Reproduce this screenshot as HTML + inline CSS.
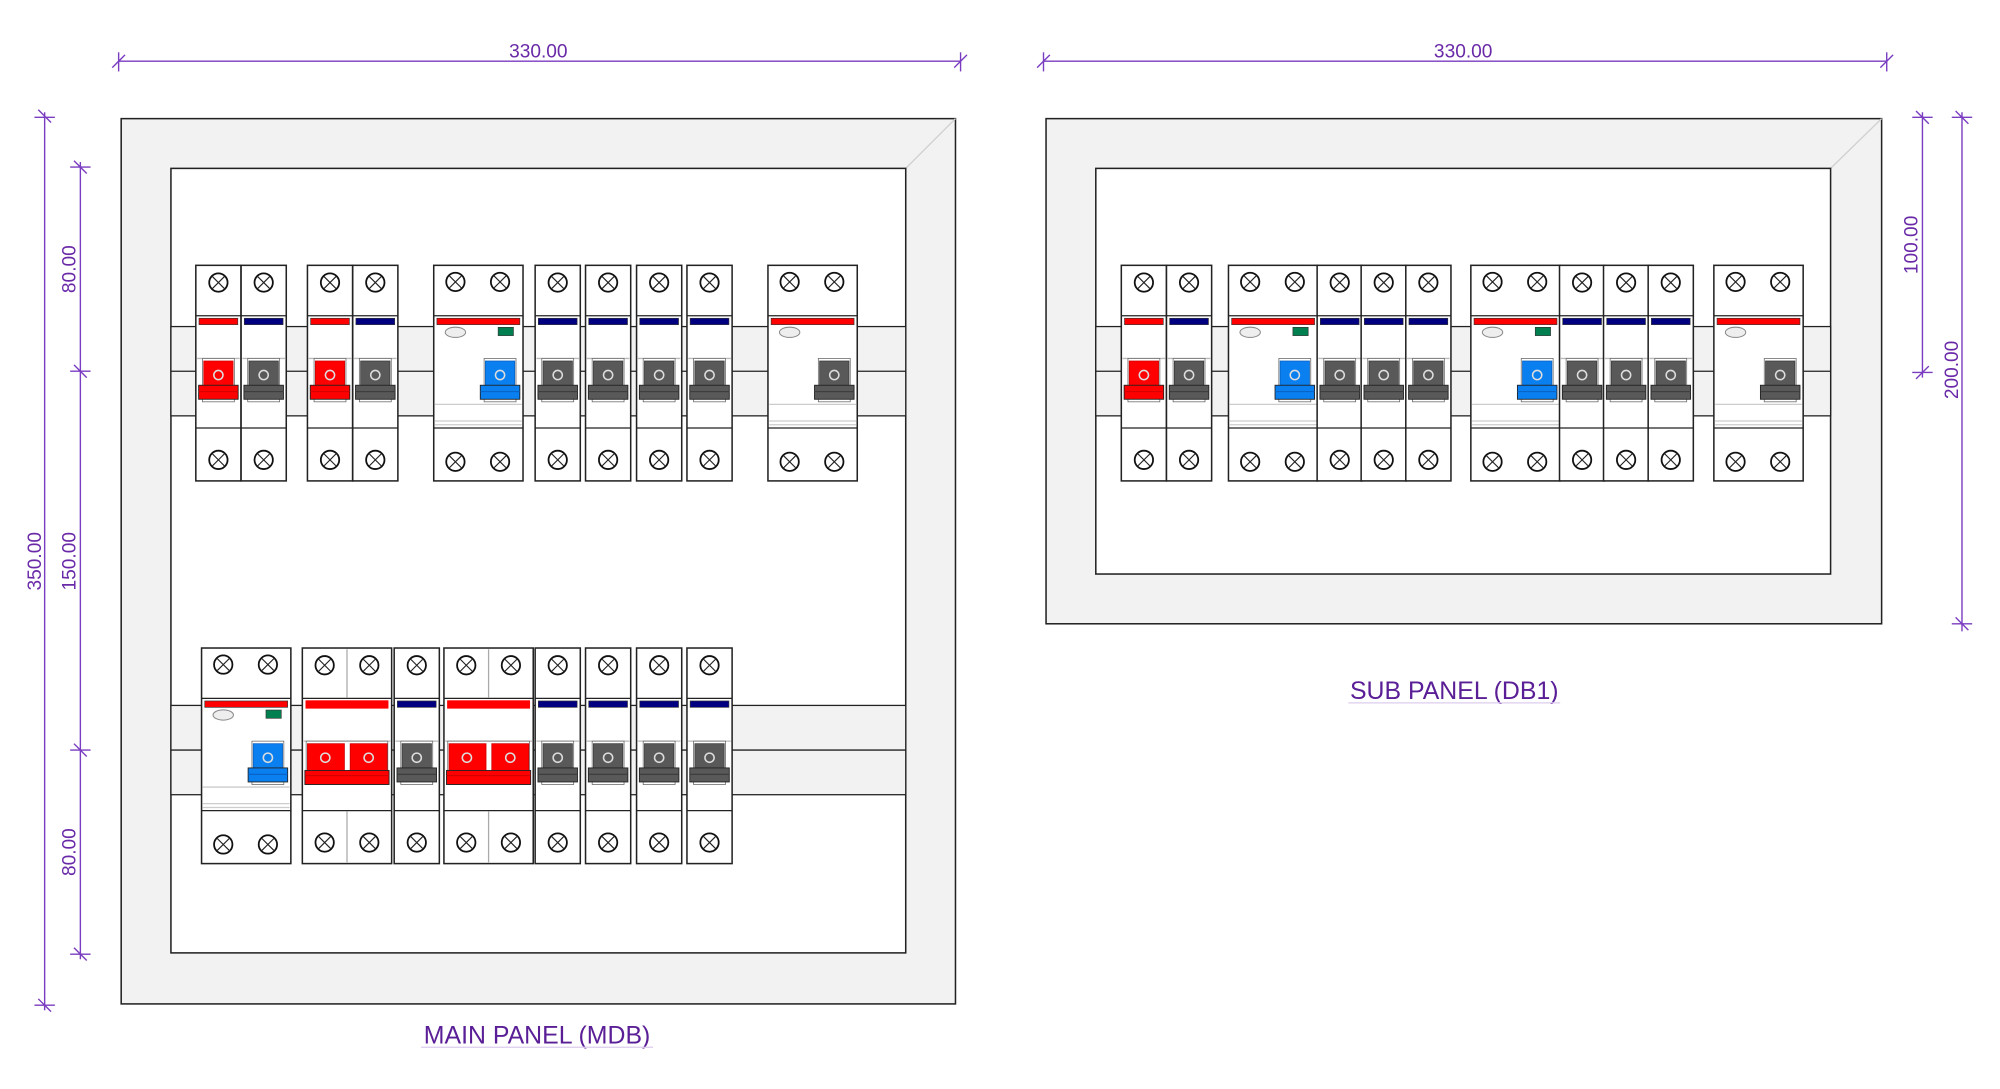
<!DOCTYPE html>
<html><head><meta charset="utf-8"><style>
html,body{margin:0;padding:0;background:#fff;width:2000px;height:1089px;overflow:hidden}
svg{display:block}
.dim{fill:#6a2aa8;font-family:"Liberation Sans",sans-serif;font-size:15px}
.lbl{fill:#5a1e96;font-family:"Liberation Sans",sans-serif;font-size:19.5px}
</style></head><body>
<svg id="s" width="2000" height="1089" viewBox="0 0 1567.8 853.7" preserveAspectRatio="none" xmlns="http://www.w3.org/2000/svg">
<rect width="1570" height="860" fill="#fff"/>
<!-- main panel -->
<rect x="95" y="93" width="654" height="694" fill="#f2f2f2" stroke="#222" stroke-width="1.2"/>
<line x1="710" y1="132" x2="749" y2="93" stroke="#d0d0d0" stroke-width="1"/>
<rect x="134" y="132" width="576" height="615" fill="#fff" stroke="#222" stroke-width="1.2"/>
<rect x="134" y="256" width="576" height="70" fill="#f2f2f2" stroke="#222" stroke-width="1"/>
<line x1="134" y1="291" x2="710" y2="291" stroke="#222" stroke-width="1"/>
<rect x="134" y="553" width="576" height="70" fill="#f2f2f2" stroke="#222" stroke-width="1"/>
<line x1="134" y1="588" x2="710" y2="588" stroke="#222" stroke-width="1"/>
<!-- sub panel -->
<rect x="820" y="93" width="655" height="396" fill="#f2f2f2" stroke="#222" stroke-width="1.2"/>
<line x1="1435" y1="132" x2="1475" y2="93" stroke="#d0d0d0" stroke-width="1"/>
<rect x="859" y="132" width="576" height="318" fill="#fff" stroke="#222" stroke-width="1.2"/>
<rect x="859" y="256" width="576" height="70" fill="#f2f2f2" stroke="#222" stroke-width="1"/>
<line x1="859" y1="291" x2="1435" y2="291" stroke="#222" stroke-width="1"/>
<g id="mods"></g>
<!-- dimensions -->
<g stroke="#7a3cc0" stroke-width="1.1" fill="none">
<line x1="93" y1="48" x2="753" y2="48"/>
<line x1="93" y1="41" x2="93" y2="56"/><line x1="88" y1="53" x2="98" y2="43"/>
<line x1="753" y1="41" x2="753" y2="56"/><line x1="748" y1="53" x2="758" y2="43"/>
<line x1="818" y1="48" x2="1479" y2="48"/>
<line x1="818" y1="41" x2="818" y2="56"/><line x1="813" y1="53" x2="823" y2="43"/>
<line x1="1479" y1="41" x2="1479" y2="56"/><line x1="1474" y1="53" x2="1484" y2="43"/>
<line x1="35" y1="88" x2="35" y2="792"/>
<line x1="27" y1="92" x2="43" y2="92"/><line x1="30" y1="86" x2="40" y2="96"/>
<line x1="27" y1="788" x2="43" y2="788"/><line x1="30" y1="783" x2="40" y2="793"/>
<line x1="63" y1="127" x2="63" y2="752"/>
<line x1="55" y1="131" x2="71" y2="131"/><line x1="58" y1="126" x2="68" y2="136"/>
<line x1="55" y1="291" x2="71" y2="291"/><line x1="58" y1="286" x2="68" y2="296"/>
<line x1="55" y1="588" x2="71" y2="588"/><line x1="58" y1="583" x2="68" y2="593"/>
<line x1="55" y1="748" x2="71" y2="748"/><line x1="58" y1="743" x2="68" y2="753"/>
<line x1="1507" y1="88" x2="1507" y2="296"/>
<line x1="1499" y1="92" x2="1515" y2="92"/><line x1="1502" y1="87" x2="1512" y2="97"/>
<line x1="1499" y1="292" x2="1515" y2="292"/><line x1="1502" y1="297" x2="1512" y2="287"/>
<line x1="1538" y1="88" x2="1538" y2="495"/>
<line x1="1530" y1="92" x2="1546" y2="92"/><line x1="1533" y1="87" x2="1543" y2="97"/>
<line x1="1530" y1="489" x2="1546" y2="489"/><line x1="1533" y1="484" x2="1543" y2="494"/>
</g>
<text class="dim" x="422" y="45" text-anchor="middle">330.00</text>
<text class="dim" x="1147" y="45" text-anchor="middle">330.00</text>
<text class="dim" transform="translate(32,440) rotate(-90)" text-anchor="middle">350.00</text>
<text class="dim" transform="translate(59,211) rotate(-90)" text-anchor="middle">80.00</text>
<text class="dim" transform="translate(59,440) rotate(-90)" text-anchor="middle">150.00</text>
<text class="dim" transform="translate(59,668) rotate(-90)" text-anchor="middle">80.00</text>
<text class="dim" transform="translate(1503,192) rotate(-90)" text-anchor="middle">100.00</text>
<text class="dim" transform="translate(1535,290) rotate(-90)" text-anchor="middle">200.00</text>
<text class="lbl" x="421" y="818" text-anchor="middle">MAIN PANEL (MDB)</text>
<line x1="330" y1="821" x2="512" y2="821" stroke="#dccdee" stroke-width="1"/>
<text class="lbl" x="1140" y="548" text-anchor="middle">SUB PANEL (DB1)</text>
<line x1="1057" y1="551" x2="1223" y2="551" stroke="#dccdee" stroke-width="1"/>
</svg>
<script>
var G=document.getElementById("mods"),h="";
function R(x,y,w,hh,f,s,sw){return '<rect x="'+x+'" y="'+y+'" width="'+w+'" height="'+hh+'" fill="'+f+'" stroke="'+(s||"none")+'" stroke-width="'+(sw||1)+'"/>';}
function L(x1,y1,x2,y2,c,w){return '<line x1="'+x1+'" y1="'+y1+'" x2="'+x2+'" y2="'+y2+'" stroke="'+c+'" stroke-width="'+(w||1)+'"/>';}
function screw(cx,cy){var r=7.2,d=4.6;return '<circle cx="'+cx+'" cy="'+cy+'" r="'+r+'" fill="#fff" stroke="#111" stroke-width="1.4"/>'+L(cx-d,cy-d,cx+d,cy+d,"#222",0.9)+L(cx-d,cy+d,cx+d,cy-d,"#222",0.9);}
var COL={red:["#ff0000","#d00000"],gray:["#595959","#3a3a3a"],blue:["#0a7ff0","#0860c0"]};
function toggle(cx,y0,c){var a=COL[c][0],b=COL[c][1];return R(cx-12.5,y0+73,25,34,"#fff","#666",0.6)+R(cx-11.5,y0+75,23,20,a,b,0.6)+R(cx-15.5,y0+94,31,11,a,"#222",0.7)+L(cx-15.5,y0+99,cx+15.5,y0+99,b,0.8)+'<circle cx="'+cx+'" cy="'+(y0+86)+'" r="3.6" fill="none" stroke="#ddd" stroke-width="1.2"/>';}
function body(x,y0,w){return R(x,y0,w,169,"#fff","#222",1.2)+L(x,y0+39.5,x+w,y0+39.5,"#222",1)+L(x,y0+127.5,x+w,y0+127.5,"#222",1)+L(x+1,y0+73,x+w-1,y0+73,"#bbb",1);}
function single(x,y0,st,c){var w=35.4,cx=x+w/2;return body(x,y0,w)+R(x+2.5,y0+41.5,w-5,5,st=="r"?"#ff0000":"#000080","#333",0.5)+screw(cx,y0+13.5)+screw(cx,y0+152.5)+toggle(cx,y0,c);}
function rcd(x,y0,c,green){var w=70,s="";s+=R(x,y0,w,169,"#fff","#222",1.2)+L(x,y0+39.5,x+w,y0+39.5,"#222",1)+L(x,y0+127.5,x+w,y0+127.5,"#222",1);
s+=R(x+2.5,y0+41.5,w-5,5,"#ff0000","#333",0.5)+screw(x+17,y0+13)+screw(x+52,y0+13)+screw(x+17,y0+154)+screw(x+52,y0+154);
s+='<ellipse cx="'+(x+17)+'" cy="'+(y0+52.5)+'" rx="8" ry="4" fill="#eee" stroke="#888" stroke-width="0.8"/>';
if(green)s+=R(x+50.5,y0+48.6,12,6.5,"#008050","#333",0.5);
s+=L(x+1,y0+109,x+w-1,y0+109,"#ccc",1)+L(x+1,y0+122,x+w-1,y0+122,"#ccc",1)+L(x+1,y0+125,x+w-1,y0+125,"#ccc",1);
s+=toggle(x+52,y0,c);return s;}
function dbl(x,y0){var w=70,s="";s+=R(x,y0,w,169,"#fff","#222",1.2)+L(x,y0+39.5,x+w,y0+39.5,"#222",1)+L(x,y0+127.5,x+w,y0+127.5,"#222",1)+L(x+1,y0+73,x+w-1,y0+73,"#bbb",1);
s+=L(x+35,y0+1,x+35,y0+39,"#aaa",1)+L(x+35,y0+128,x+35,y0+168,"#aaa",1);
s+=R(x+2.5,y0+41,w-5,6.5,"#ff0000")+screw(x+17.5,y0+13.5)+screw(x+52.5,y0+13.5)+screw(x+17.5,y0+152.5)+screw(x+52.5,y0+152.5);
s+=R(x+3,y0+73,64,34,"#fff","#666",0.6)+R(x+4,y0+75,29,21,"#ff0000","#c00",0.6)+R(x+37.5,y0+75,29,21,"#ff0000","#c00",0.6)+R(x+2,y0+96,66,11,"#ff0000","#222",0.7)+L(x+2,y0+100,x+68,y0+100,"#c00",0.8);
s+='<circle cx="'+(x+18)+'" cy="'+(y0+86)+'" r="3.6" fill="none" stroke="#ddd" stroke-width="1.2"/><circle cx="'+(x+52)+'" cy="'+(y0+86)+'" r="3.6" fill="none" stroke="#ddd" stroke-width="1.2"/>';return s;}
var y1=208,y2=508;
h+=single(153.5,y1,"r","red")+single(189,y1,"n","gray")+single(241,y1,"r","red")+single(276.5,y1,"n","gray");
h+=rcd(340,y1,"blue",1);
[419.5,459,499,538.5].forEach(function(x){h+=single(x,y1,"n","gray");});
h+=rcd(602,y1,"gray",0);
h+=rcd(158,y2,"blue",1)+dbl(237,y2)+single(309,y2,"n","gray")+dbl(348,y2);
[419.5,459,499,538.5].forEach(function(x){h+=single(x,y2,"n","gray");});
h+=single(879,y1,"r","red")+single(914.4,y1,"n","gray");
h+=rcd(963,y1,"blue",1);[1032.5,1067,1102].forEach(function(x){h+=single(x,y1,"n","gray");});
h+=rcd(1153,y1,"blue",1);[1222.5,1257,1292].forEach(function(x){h+=single(x,y1,"n","gray");});
h+=rcd(1343.5,y1,"gray",0);
G.innerHTML=h;
</script>
</body></html>
